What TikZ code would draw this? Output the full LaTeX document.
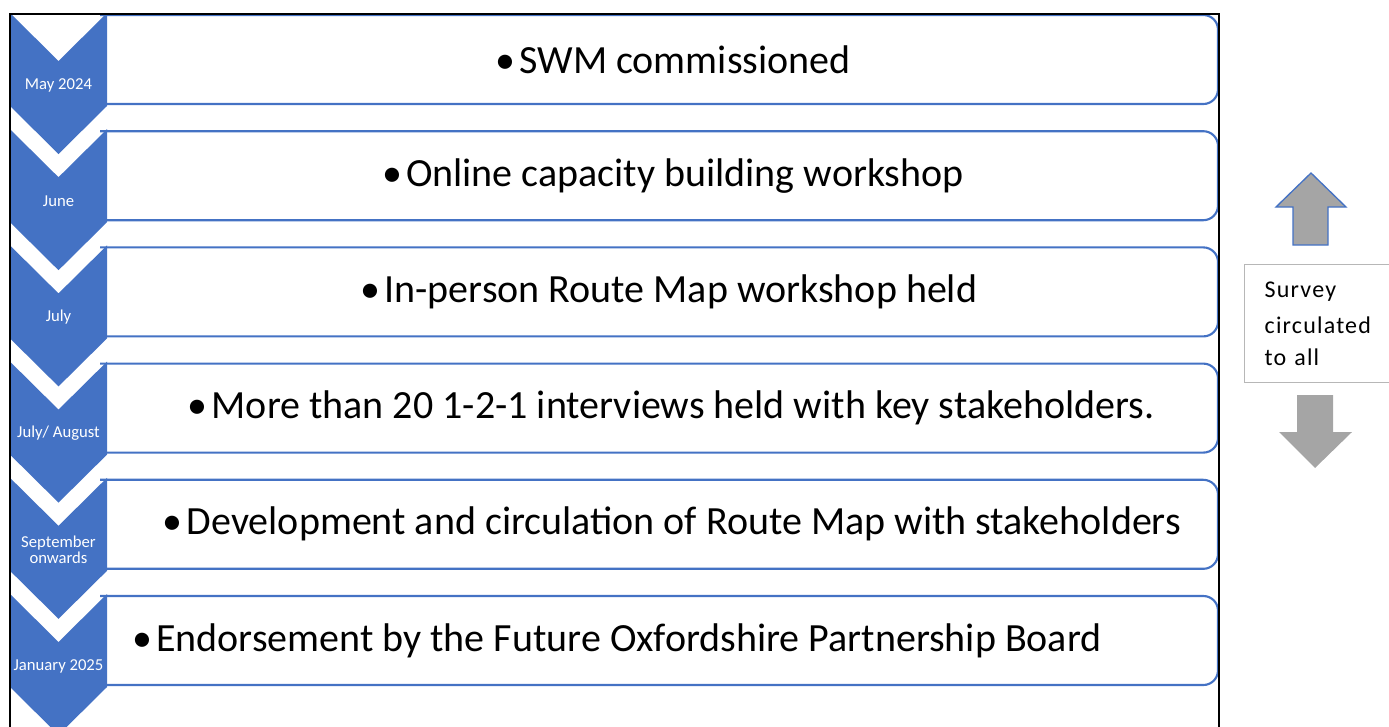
\documentclass[tikz,border=0pt]{standalone}
\usepackage{fontspec}
\setmainfont{Carlito}
\usetikzlibrary{positioning,calc}
\definecolor{smartblue}{HTML}{4472C4}
\definecolor{smartgray}{HTML}{A5A5A5}
\tikzset{
  chev/.style={fill=smartblue},
  datelbl/.style={text=white,font=\fontsize{12.5}{12.5}\selectfont,align=center,inner sep=0pt},
  stepbox/.style={draw=smartblue,line width=1.6pt,rounded corners=11pt},
  itemtext/.style={font=\fontsize{30}{32}\selectfont,inner sep=0pt},
  surveybox/.style={draw=smartgray!80,line width=1pt,align=left,text width=95pt,inner xsep=15pt,
    minimum height=88.5pt,font=\fontsize{18}{24}\selectfont\addfontfeature{LetterSpace=5}}
}
\begin{document}
\begin{tikzpicture}[x=0.75pt,y=-0.75pt]
\useasboundingbox (0,0) rectangle (1389,726);
\clip (0,0) rectangle (1389,726);

% Boxes with the items
\foreach \i/\cx/\txt in {0/673/{SWM commissioned},
    1/673/{Online capacity building workshop},
    2/669/{In-person Route Map workshop held},
    3/671/{More than 20 1-2-1 interviews held with key stakeholders.},
    4/672/{Development and circulation of Route Map with stakeholders},
    5/617/{Endorsement by the Future Oxfordshire Partnership Board}}{
  \pgfmathsetmacro\ytop{15+116.2*\i}
  \draw[stepbox] (100,\ytop) -- (1218,\ytop) -- (1218,\ytop+89) -- (100,\ytop+89);
  \node[itemtext] (item\i) at (\cx,\ytop+44.5) {\textbullet\hspace{3pt}\txt};
}

% Chevrons with the dates
\foreach \i/\dt in {0/{May 2024}, 1/{June}, 2/{July}, 3/{July/ August},
    4/{September\\onwards}, 5/{January 2025}}{
  \pgfmathsetmacro\ytop{13+116.2*\i}
  \fill[chev] (10,\ytop) -- (58.5,\ytop+48) -- (107,\ytop) -- (107,\ytop+93)
    -- (58.5,\ytop+141) -- (10,\ytop+93) -- cycle;
  \node[datelbl] (date\i) at (58.5,\ytop+72) {\dt};
}

% Frame
\draw[line width=1.5pt] (10,14) rectangle (1219,760);

% Survey
\node[surveybox,anchor=north west] (survey) at (1244,264) {\vspace{3pt}Survey\\circulated\\to all};
\filldraw[fill=smartgray,draw=smartblue,line width=1pt] (1293,245) -- (1293,207) -- (1276,207)
  -- (1311,173) -- (1346,207) -- (1328,207) -- (1328,245) -- cycle;
\fill[smartgray] (1297,395) -- (1333,395) -- (1333,432) -- (1352,432) -- (1315,468)
  -- (1279,432) -- (1297,432) -- cycle;

\end{tikzpicture}
\end{document}
